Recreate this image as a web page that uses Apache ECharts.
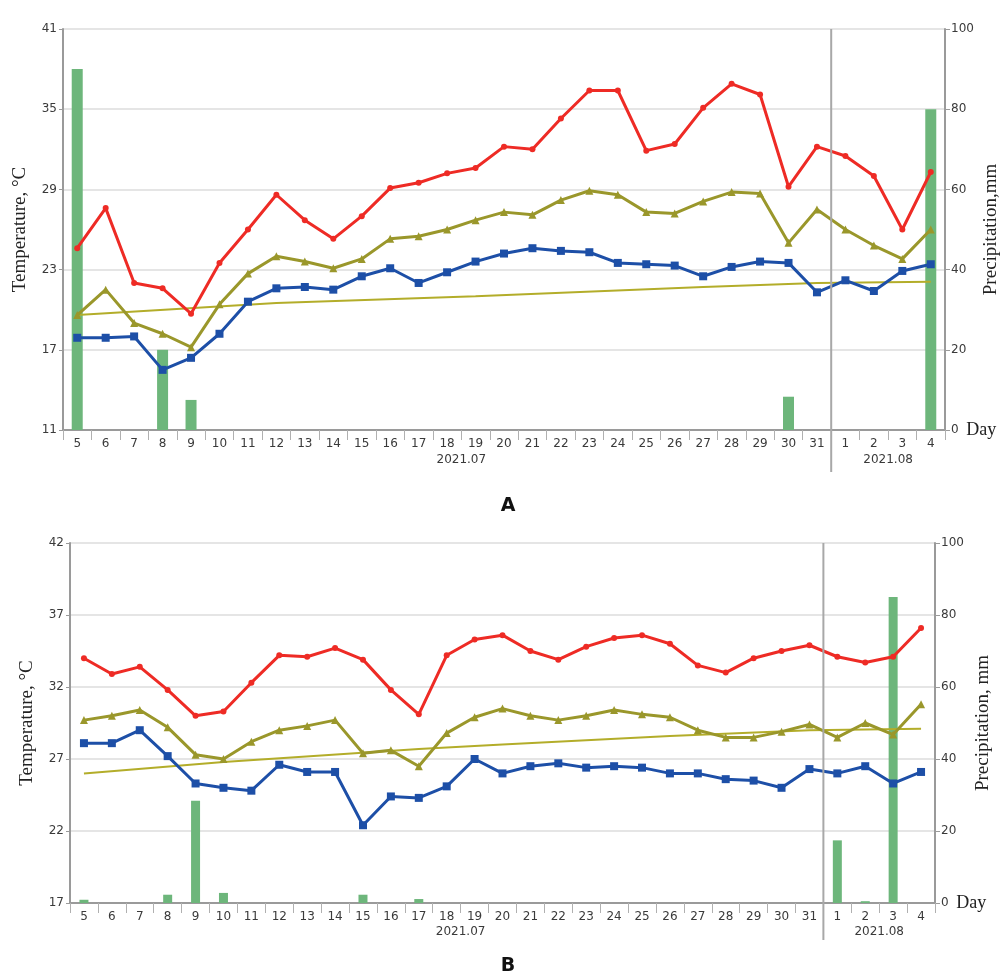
<!DOCTYPE html>
<html>
<head>
<meta charset="utf-8">
<script src="https://cdn.jsdelivr.net/npm/echarts@6/dist/echarts.min.js"></script>
<style>html,body{margin:0;padding:0;background:#fff}#c{width:1001px;height:977px}</style>
</head>
<body>
<div id="c"></div>
<script>
// ---- data ----
const days = ['5','6','7','8','9','10','11','12','13','14','15','16','17','18','19','20','21','22','23','24','25','26','27','28','29','30','31','1','2','3','4'];

const maxA  = [24.6,27.6,22.0,21.6,19.7,23.5,26.0,28.6,26.7,25.3,27.0,29.1,29.5,30.2,30.6,32.2,32.0,34.3,36.4,36.4,31.9,32.4,35.1,36.9,36.1,29.2,32.2,31.5,30.0,26.0,30.3];
const meanA = [19.6,21.5,19.0,18.2,17.2,20.4,22.7,24.0,23.6,23.1,23.8,25.3,25.5,26.0,26.7,27.3,27.1,28.2,28.9,28.6,27.3,27.2,28.1,28.8,28.7,25.0,27.5,26.0,24.8,23.8,26.0];
const minA  = [17.9,17.9,18.0,15.5,16.4,18.2,20.6,21.6,21.7,21.5,22.5,23.1,22.0,22.8,23.6,24.2,24.6,24.4,24.3,23.5,23.4,23.3,22.5,23.2,23.6,23.5,21.3,22.2,21.4,22.9,23.4];
const precipA = [90,0,0,20,7.5,0,0,0,0,0,0,0,0,0,0,0,0,0,0,0,0,0,0,0,0,8.3,0,0,0,0,80];
const trendA = [[0,19.6],[7,20.5],[14,21.0],[22,21.7],[26,22.0],[30,22.1]];

const maxB  = [34.0,32.9,33.4,31.8,30.0,30.3,32.3,34.2,34.1,34.7,33.9,31.8,30.1,34.2,35.3,35.6,34.5,33.9,34.8,35.4,35.6,35.0,33.5,33.0,34.0,34.5,34.9,34.1,33.7,34.1,36.1];
const meanB = [29.7,30.0,30.4,29.2,27.3,27.0,28.2,29.0,29.3,29.7,27.4,27.6,26.5,28.8,29.9,30.5,30.0,29.7,30.0,30.4,30.1,29.9,29.0,28.5,28.5,28.9,29.4,28.5,29.5,28.7,30.8];
const minB  = [28.1,28.1,29.0,27.2,25.3,25.0,24.8,26.6,26.1,26.1,22.4,24.4,24.3,25.1,27.0,26.0,26.5,26.7,26.4,26.5,26.4,26.0,26.0,25.6,25.5,25.0,26.3,26.0,26.5,25.3,26.1];
const precipB = [0.9,0,0,2.3,28.4,2.8,0,0,0,0,2.3,0,1.1,0,0,0,0,0,0,0,0,0,0,0,0,0,0,17.4,0.5,85,0];
const trendB = [[0,26.0],[5,26.8],[12,27.7],[15,28.0],[21,28.6],[26,29.0],[30,29.1]];

const tempTicksA = [11,17,23,29,35,41];
const tempTicksB = [17,22,27,32,37,42];
const yearLabels = ['2021.07','2021.08'];

// ---- chart ----
const chart = echarts.init(document.getElementById('c'), null, {renderer:'canvas'});
const AX = '#9a9a9a';
const TXT = '#3a3a3a';
const tickFont = {fontFamily:'DejaVu Sans', fontSize:12, color:TXT};
const serif = 'Liberation Serif';

function xAx(gi){
  return {type:'category', gridIndex:gi, data:days, boundaryGap:true,
    axisLine:{lineStyle:{color:AX,width:2}},
    axisTick:{show:true,length:10,lineStyle:{color:'#b0b0b0',width:1}},
    axisLabel:Object.assign({margin:8,interval:0},tickFont),
    splitLine:{show:false}};
}
function leftAx(gi,min,max,ticks,gap){
  return {type:'value', gridIndex:gi, min:min, max:max, position:'left',
    name:'Temperature, °C', nameLocation:'middle', nameRotate:90, nameGap:gap, nameMoveOverlap:false,
    nameTextStyle:{fontFamily:serif,fontSize:19,color:'#222'},
    axisLine:{show:true,lineStyle:{color:AX,width:2}},
    axisTick:{show:true,length:4,customValues:ticks,lineStyle:{color:AX}},
    axisLabel:Object.assign({customValues:ticks,margin:6},tickFont),
    splitLine:{show:false}};
}
function rightAx(gi,name,gap){
  return {type:'value', gridIndex:gi, min:0, max:100, interval:20, position:'right',
    name:name, nameLocation:'middle', nameRotate:90, nameGap:gap, nameMoveOverlap:false,
    nameTextStyle:{fontFamily:serif,fontSize:19,color:'#222'},
    axisLine:{show:true,lineStyle:{color:AX,width:2}},
    axisTick:{show:true,length:5,lineStyle:{color:AX}},
    axisLabel:Object.assign({margin:6,
      formatter:v=> v===0 ? '{n|0}  {d|Day}' : String(v),
      rich:{n:{fontFamily:'DejaVu Sans',fontSize:12,color:TXT},d:{fontFamily:serif,fontSize:18,color:'#222'}}},tickFont),
    splitLine:{show:true,lineStyle:{color:'#dcdcdc',width:1.5}}};
}
function lineS(name,data,xi,yi,color,symbol,size){
  return {name:name,type:'line',xAxisIndex:xi,yAxisIndex:yi,data:data,
    symbol:symbol,symbolSize:size,showSymbol:true,
    lineStyle:{color:color,width:3},itemStyle:{color:color},z:5,animation:false};
}
function trendS(data,xi,yi){
  return {type:'line',xAxisIndex:xi,yAxisIndex:yi,data:data,symbol:'none',
    lineStyle:{color:'#b3ad2a',width:2},z:4,animation:false};
}
function barS(data,xi,yi,w){
  return {type:'bar',xAxisIndex:xi,yAxisIndex:yi,data:data,barWidth:w,
    itemStyle:{color:'#6db67b'},z:2,animation:false};
}

chart.setOption({
  animation:false,
  backgroundColor:'#fff',
  grid:[
    {left:63,right:56,top:29,height:401,containLabel:false,outerBoundsMode:'none'},
    {left:70,right:66,top:543,height:360,containLabel:false,outerBoundsMode:'none'}
  ],
  xAxis:[xAx(0),xAx(1)],
  yAxis:[
    leftAx(0,11,41,tempTicksA,33),
    rightAx(0,'Precipitation,mm',37),
    leftAx(1,17,42,tempTicksB,33),
    rightAx(1,'Precipitation, mm',39)
  ],
  series:[
    barS(precipA,0,1,11),
    trendS(trendA,0,0),
    lineS('max',maxA,0,0,'#ee2b25','circle',6),
    lineS('mean',meanA,0,0,'#9a972b','triangle',8),
    lineS('min',minA,0,0,'#1d4fa7','rect',8),
    barS(precipB,1,3,9),
    trendS(trendB,1,2),
    lineS('max',maxB,1,2,'#ee2b25','circle',6),
    lineS('mean',meanB,1,2,'#9a972b','triangle',8),
    lineS('min',minB,1,2,'#1d4fa7','rect',8)
  ]
});

// separators and year labels positioned from the axes
function px(xi,idx){ return chart.convertToPixel({xAxisIndex:xi}, idx); }
const g = [];
[[0,29,472,460],[1,543,940,932]].forEach(([xi,top,bot,ly])=>{
  const band = px(xi,1)-px(xi,0);
  const sx = px(xi,26)+band/2;
  g.push({type:'line',shape:{x1:sx,y1:top,x2:sx,y2:bot},style:{stroke:'#a8a8a8',lineWidth:2},z:10});
  const x07 = (px(xi,13)+px(xi,14))/2;
  const x08 = (px(xi,28)+px(xi,29))/2;
  g.push({type:'text',x:x07,y:ly,style:{text:yearLabels[0],font:'12px DejaVu Sans',fill:TXT,align:'center',verticalAlign:'middle'}});
  g.push({type:'text',x:x08,y:ly,style:{text:yearLabels[1],font:'12px DejaVu Sans',fill:TXT,align:'center',verticalAlign:'middle'}});
});
g.push({type:'text',x:508,y:506,style:{text:'A',font:'bold 19px DejaVu Sans',fill:'#111',align:'center',verticalAlign:'middle'}});
g.push({type:'text',x:508,y:966,style:{text:'B',font:'bold 19px DejaVu Sans',fill:'#111',align:'center',verticalAlign:'middle'}});
chart.setOption({graphic:g});
</script>
</body>
</html>
